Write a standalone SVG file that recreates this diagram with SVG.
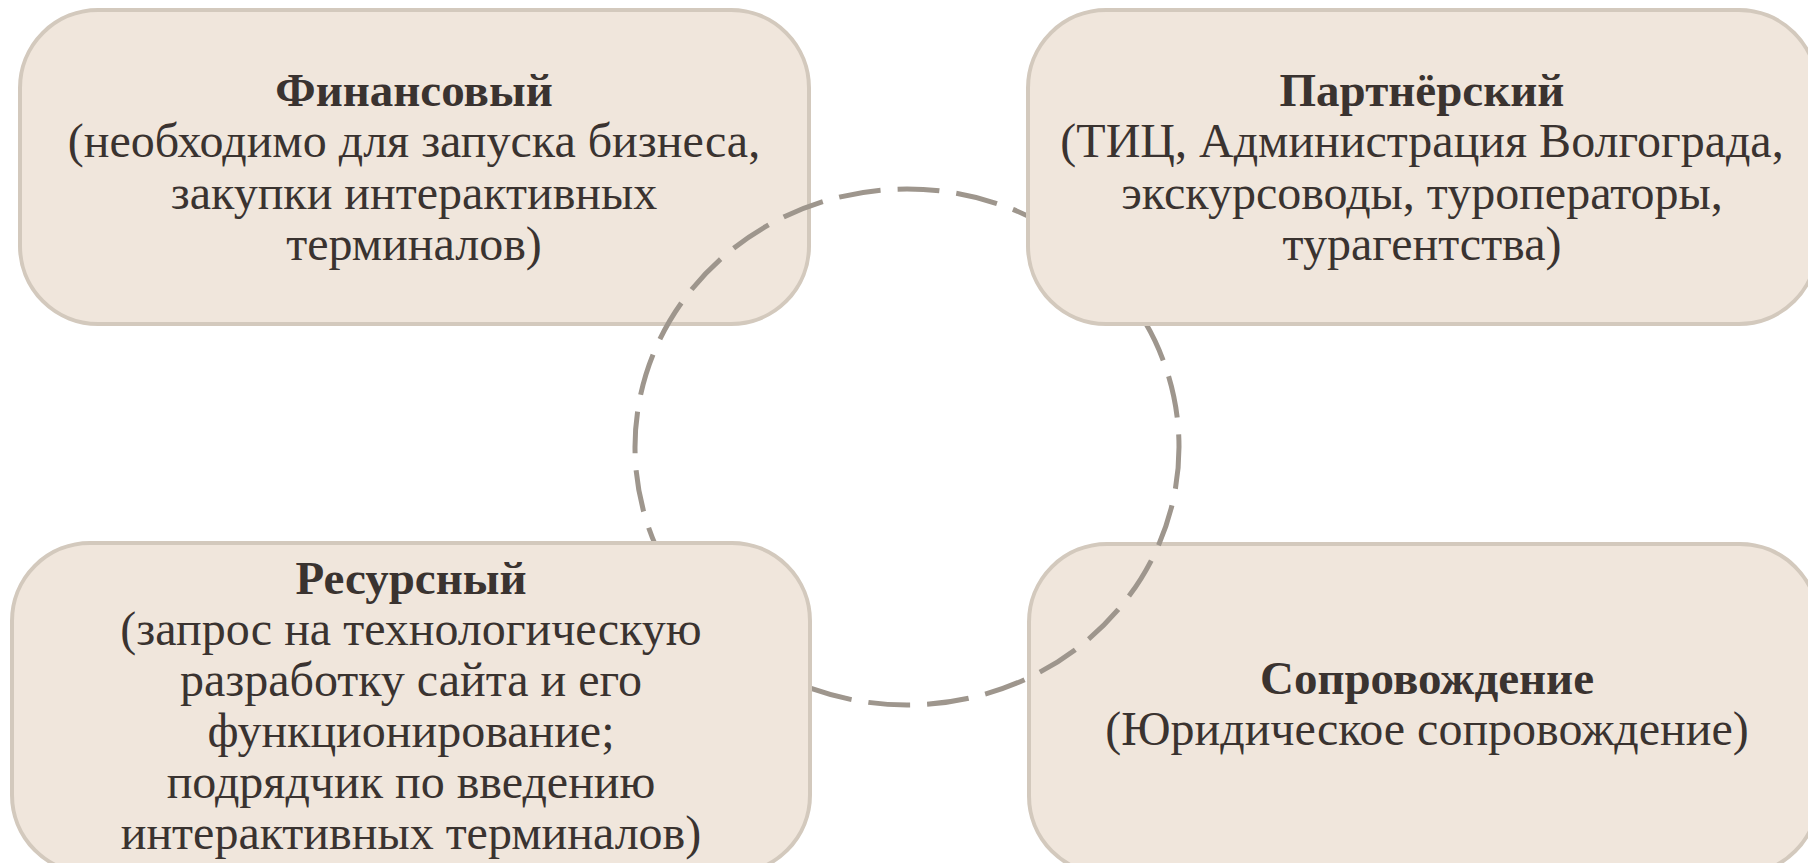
<svg xmlns="http://www.w3.org/2000/svg" width="1808" height="863" viewBox="0 0 1808 863">
<style>
.box{fill:#f0e6dc;stroke:#d3c9bd;stroke-width:4}
.t{font-family:"Liberation Serif","DejaVu Serif",serif;font-size:48px;fill:#3a3330;text-anchor:middle}
.b{font-weight:bold;font-size:47px}
.ring{fill:none;stroke:#9e968d;stroke-width:5;stroke-dasharray:42 17}
</style>
<rect width="1808" height="863" fill="#ffffff"/>
<g id="node-financial">
<rect class="box" x="20" y="10" width="789" height="314" rx="78" ry="78"/>
<text class="t b" x="414" y="106">Финансовый</text>
<text class="t" x="414" y="157">(необходимо для запуска бизнеса,</text>
<text class="t" x="414" y="209">закупки интерактивных</text>
<text class="t" x="414" y="260">терминалов)</text>
</g>
<g id="node-support">
<rect class="box" x="1029" y="544" width="789" height="330" rx="78" ry="78"/>
<text class="t b" x="1427" y="694">Сопровождение</text>
<text class="t" x="1427" y="745">(Юридическое сопровождение)</text>
</g>
<g id="connectors">
<ellipse class="ring" cx="907" cy="447" rx="272" ry="258"/>
</g>
<g id="node-partner">
<rect class="box" x="1028" y="10" width="789" height="314" rx="78" ry="78"/>
<text class="t b" x="1422" y="106">Партнёрский</text>
<text class="t" x="1422" y="157">(ТИЦ, Администрация Волгограда,</text>
<text class="t" x="1422" y="209">экскурсоводы, туроператоры,</text>
<text class="t" x="1422" y="260">турагентства)</text>
</g>
<g id="node-resource">
<rect class="box" x="12" y="543" width="798" height="330" rx="78" ry="78"/>
<text class="t b" x="411" y="594">Ресурсный</text>
<text class="t" x="411" y="645">(запрос на технологическую</text>
<text class="t" x="411" y="696">разработку сайта и его</text>
<text class="t" x="411" y="747">функционирование;</text>
<text class="t" x="411" y="798">подрядчик по введению</text>
<text class="t" x="411" y="849">интерактивных терминалов)</text>
</g>
</svg>
